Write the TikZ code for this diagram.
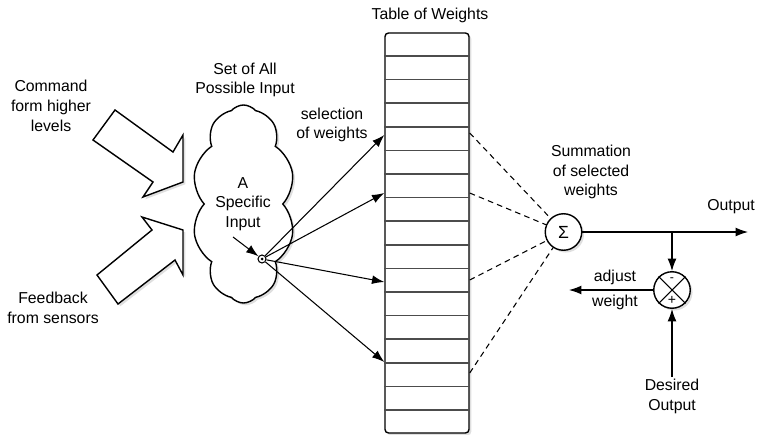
\documentclass[tikz,border=0pt]{standalone}
\usepackage{fontspec}
\setmainfont{Liberation Sans}
\usetikzlibrary{arrows.meta}
\usetikzlibrary{shapes.symbols}
\usetikzlibrary{shadows}
\usetikzlibrary{calc}
\tikzset{
    wtarrow/.style={-{Latex[length=7pt,width=5pt]}, semithick},
    dashline/.style={dash pattern=on 3.2pt off 2.4pt, semithick},
    shade/.style={drop shadow={shadow xshift=1.3pt, shadow yshift=-1.3pt, opacity=0.25}},
    txt/.style={align=center, font=\fontsize{9}{11.2}\selectfont, inner sep=1pt},
    bigarrow/.style={draw, fill=white, thick, line join=miter, shade},
    opcircle/.style={shape=circle, draw, fill=white, thick, minimum size=0.73cm, inner sep=0pt, shade}
}

\begin{document}
\begin{tikzpicture}
    \useasboundingbox (0,0) rectangle (15.16,8.68);

    % commands and feedback
    \node[txt] (cmd) at (1.02,6.56) {Command\\form higher\\levels};
    \node[txt] (fb) at (1.06,2.52) {Feedback\\from sensors};
    \draw[bigarrow] (2.30,6.48) -- (3.46,5.64) -- (3.66,5.98) -- (3.66,5.04) -- (2.86,4.74) -- (3.06,5.04) -- (1.86,5.88) -- cycle;
    \draw[bigarrow] (1.94,3.18) -- (3.04,4.08) -- (2.84,4.34) -- (3.66,4.08) -- (3.66,3.18) -- (3.50,3.48) -- (2.36,2.60) -- cycle;

    % input space
    \node[shape=cloud, cloud puffs=10, cloud puff arc=100, aspect=0.52, draw, fill=white, thick,
          minimum width=2.06cm, minimum height=3.96cm, shade] (cloud) at (4.87,4.6) {};
    \node[txt] (setlbl) at (4.9,7.08) {Set of All\\Possible Input};
    \node[txt] (spec) at (4.86,4.6) {A\\Specific\\Input};
    \node[shape=circle, draw, semithick, fill=white, minimum size=0.16cm, inner sep=0pt] (pt) at (5.24,3.5) {};
    \node[shape=circle, fill=black, minimum size=0.06cm, inner sep=0pt] (ptdot) at (pt) {};
    \coordinate (specarr) at (4.66,3.94);
    \draw[wtarrow] (specarr) -- (pt);

    % table of weights
    \node[draw, thick, rounded corners=2pt, fill=white, minimum width=1.68cm, minimum height=8cm, shade] (tbl) at (8.54,4.02) {};
    \foreach \k in {1,...,16}
        \draw[line width=0.9pt, black!70] ($(tbl.north west)!\k/17!(tbl.south west)$) -- ($(tbl.north east)!\k/17!(tbl.south east)$);
    \node[txt] (tbllbl) at (8.6,8.38) {Table of Weights};

    \coordinate (w1) at (tbl.west |- 0,5.98);
    \coordinate (w2) at (tbl.west |- 0,4.82);
    \coordinate (w3) at (tbl.west |- 0,3.04);
    \coordinate (w4) at (tbl.west |- 0,1.44);
    \coordinate (e1) at (tbl.east |- 0,6.02);
    \coordinate (e2) at (tbl.east |- 0,4.82);
    \coordinate (e3) at (tbl.east |- 0,3.08);
    \coordinate (e4) at (tbl.east |- 0,1.22);

    \foreach \w in {w1,w2,w3,w4}
        \draw[wtarrow] (pt) -- (\w);
    \node[txt] (sellbl) at (6.64,6.18) {selection\\of weights};

    % summation and output
    \node[opcircle, font=\fontsize{10}{10}\selectfont] (sum) at (11.27,4.04) {Σ};
    \foreach \e in {e1,e2,e3,e4}
        \draw[dashline] (\e) -- (sum);
    \node[txt] (sumlbl) at (11.82,5.24) {Summation\\of selected\\weights};

    \coordinate (out) at (14.96,4.04);
    \draw[wtarrow] (sum) -- (out);
    \node[txt] (outlbl) at (14.62,4.54) {Output};

    % error against desired output
    \node[opcircle] (cmp) at (13.44,2.88) {};
    \draw[semithick] (cmp.north west) -- (cmp.south east) (cmp.north east) -- (cmp.south west);
    \node[font=\fontsize{7}{7}\selectfont, inner sep=0pt] (minus) at ([yshift=0.21cm]cmp.center) {-};
    \node[font=\fontsize{8}{8}\selectfont, inner sep=0pt] (plus) at ([yshift=-0.2cm]cmp.center) {+};
    \coordinate (br) at (cmp |- sum);
    \draw[wtarrow] (br) -- (cmp);

    \coordinate (adj) at (11.38,2.88);
    \draw[wtarrow] (cmp) -- (adj);
    \node[txt] (adjlbl) at (12.3,2.88) {adjust\\[3pt]weight};

    \node[txt] (des) at (13.44,0.75) {Desired\\Output};
    \draw[wtarrow] (des) -- (cmp);
\end{tikzpicture}
\end{document}
